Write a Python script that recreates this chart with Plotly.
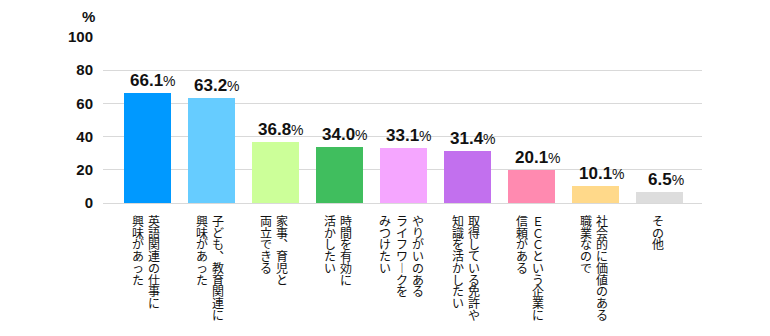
import plotly.graph_objects as go

categories = [
    ["英語関連の仕事に", "興味があった"],
    ["子ども︑教育関連に", "興味があった"],
    ["家事︑育児と", "両立できる"],
    ["時間を有効に", "活かしたい"],
    ["やりがいのある", "ライフワ︱クを", "みつけたい"],
    ["取得している免許や", "知識を活かしたい"],
    ["ＥＣＣという企業に", "信頼がある"],
    ["社会的に価値のある", "職業なので"],
    ["その他"],
]
values = [66.1, 63.2, 36.8, 34.0, 33.1, 31.4, 20.1, 10.1, 6.5]
colors = ["#0099FF", "#66CCFF", "#CCFF99", "#40BE5E", "#F5A6FF",
          "#C270EE", "#FF8AB0", "#FFD98A", "#DDDDDD"]
y_ticks = [0, 20, 40, 60, 80, 100]

LATIN = "Liberation Sans, Arial, sans-serif"
CJK = "Noto Sans CJK JP, sans-serif"

x_idx = list(range(len(values)))

fig = go.Figure()
fig.add_trace(go.Bar(
    x=x_idx, y=values, marker=dict(color=colors, line=dict(width=0)),
    width=0.734, hoverinfo="skip",
))

annotations = []
# value labels
for i, v in enumerate(values):
    annotations.append(dict(
        x=i, y=v, xref="x", yref="y",
        text=f"<b>{v:.1f}</b><span style='font-size:14px;font-weight:normal'>%</span>",
        showarrow=False, xanchor="center", yanchor="bottom",
        xshift=6, yshift=1,
        font=dict(family=LATIN, size=17, color="#111111"),
    ))

# vertical category labels: one column per line, one character per row
# outer font size 9 -> row pitch 1.3*9 = 11.7px; glyphs drawn at 12px
col_gap = 16.5
for i, lines in enumerate(categories):
    n = len(lines)
    for c, line in enumerate(lines):
        dx = (n - 1) / 2 * col_gap - c * col_gap - 1.5
        txt = "<br>".join(f"<span style='font-size:12px'>{ch}</span>" for ch in line)
        annotations.append(dict(
            x=i, y=0, xref="x", yref="y",
            text=txt, showarrow=False,
            xanchor="center", yanchor="top", align="center",
            borderpad=0, xshift=dx, yshift=-8,
            font=dict(family=CJK, size=9, color="#111111"),
        ))

# % unit label
annotations.append(dict(
    x=(88.5 - 103) / 599, y=(336 - 132.5 - 16) / (336 - 132.5 - 37),
    xref="paper", yref="paper", text="<b>%</b>",
    showarrow=False, xanchor="center", yanchor="middle",
    font=dict(family=LATIN, size=15, color="#111111"),
))

fig.update_layout(
    width=770, height=336,
    margin=dict(l=103, r=68, t=37, b=132.5, pad=0),
    paper_bgcolor="white", plot_bgcolor="white",
    showlegend=False,
    bargap=0,
    xaxis=dict(range=[-0.695, 8.664], showticklabels=False, showgrid=False,
               zeroline=False, showline=False, ticks="", fixedrange=True),
    yaxis=dict(range=[0, 100], tickvals=y_ticks,
               ticktext=[str(t) for t in y_ticks],
               showgrid=True, gridcolor="#D9D9D9", gridwidth=1,
               zeroline=True, zerolinecolor="#D9D9D9", zerolinewidth=1,
               showline=False, ticks="", ticklabelstandoff=9,
               tickfont=dict(family=LATIN, size=15, color="#111111", weight="bold"),
               fixedrange=True),
    annotations=annotations,
)

fig.write_html("out.html")
